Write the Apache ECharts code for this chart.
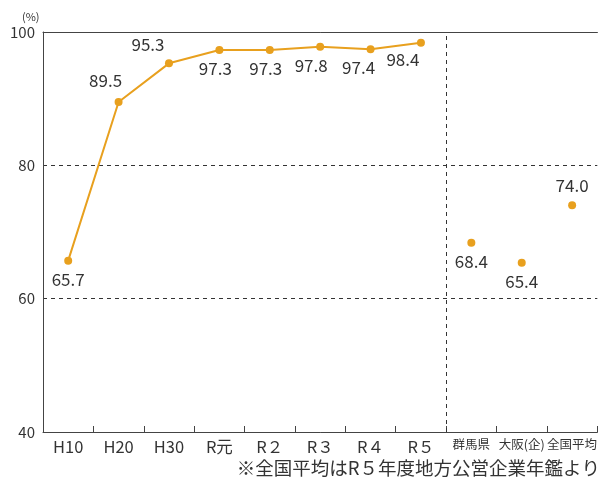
<!DOCTYPE html>
<html>
<head>
<meta charset="utf-8">
<script src="https://cdn.jsdelivr.net/npm/echarts@6/dist/echarts.min.js"></script>
<style>
  html, body { margin: 0; padding: 0; background: #fff; }
  #chart { width: 600px; height: 480px; }
</style>
</head>
<body>
<div id="chart"></div>
<script>
// Categories along the horizontal axis
var categories = ['H10', 'H20', 'H30', 'R元', 'R２', 'R３', 'R４', 'R５', '群馬県', '大阪(企)', '全国平均'];
// Yearly trend (%) — first eight categories
var trendValues = [65.7, 89.5, 95.3, 97.3, 97.3, 97.8, 97.4, 98.4, null, null, null];
// Comparison points (%) — last three categories
var compareValues = [null, null, null, null, null, null, null, null, 68.4, 65.4, 74.0];
// Vertical axis ticks
var yTicks = [40, 60, 80, 100];
// Boundary between the trend and the comparison group (in category units)
var dividerAt = 8;

var FONT = '"Noto Sans CJK JP", "Noto Sans", sans-serif';
var ORANGE = '#e8a01e';
var TEXT = '#333333';

// per-point label placement
var trendLabel = [
  { position: 'bottom', offset: [0, 1] },
  { position: 'top', offset: [-13, -4] },
  { position: 'top', offset: [-21, -1] },
  { position: 'bottom', offset: [-4, 1] },
  { position: 'bottom', offset: [-4, 1] },
  { position: 'bottom', offset: [-9, 1] },
  { position: 'bottom', offset: [-12, 1] },
  { position: 'bottom', offset: [-18, -1] }
];
var compareLabel = {
  8: { position: 'bottom', offset: [0, 1] },
  9: { position: 'bottom', offset: [0, 1] },
  10: { position: 'top', offset: [0, -2] }
};

var trendData = trendValues.map(function (v, i) {
  if (v == null) return null;
  return { value: v, label: trendLabel[i] };
});
var compareData = compareValues.map(function (v, i) {
  if (v == null) return null;
  return { value: v, label: compareLabel[i] };
});

function oneDecimal(p) {
  return Number(p.value).toFixed(1);
}

var chart = echarts.init(document.getElementById('chart'), null, { renderer: 'canvas' });
chart.setOption({
  animation: false,
  textStyle: { fontFamily: FONT },
  title: [
    { text: '(%)', left: 22, top: 11, padding: 0, textStyle: { fontSize: 11, fontWeight: 'normal', color: TEXT, fontFamily: FONT } },
    { text: '※全国平均はR５年度地方公営企業年鑑より', right: 0, top: 459, padding: 0, textStyle: { fontSize: 18.5, fontWeight: 'normal', color: TEXT, fontFamily: FONT } }
  ],
  grid: { left: 43, right: 0, top: 32, bottom: 48 },
  xAxis: [
    {
      type: 'category',
      data: categories,
      boundaryGap: true,
      axisLine: { lineStyle: { color: '#444', width: 1 } },
      axisTick: { show: true, inside: true, length: 6, interval: 0, lineStyle: { color: '#444' } },
      axisLabel: {
        interval: 0,
        color: TEXT,
        fontFamily: FONT,
        margin: 6,
        fontSize: 16.5,
        formatter: function (v, i) {
          return i >= dividerAt ? '{s|' + v + '}' : '{n|' + v + '}';
        },
        rich: {
          n: { fontSize: 16.5, fontFamily: FONT, color: TEXT },
          s: { fontSize: 12.5, fontFamily: FONT, color: TEXT }
        }
      },
      splitLine: { show: false }
    },
    {
      type: 'value',
      position: 'top',
      min: 0,
      max: categories.length,
      axisLine: { show: true, onZero: false, lineStyle: { color: '#444', width: 1 } },
      axisTick: { show: false },
      axisLabel: { show: false },
      splitLine: { show: false }
    }
  ],
  yAxis: {
    type: 'value',
    min: yTicks[0],
    max: yTicks[yTicks.length - 1],
    interval: 20,
    axisLine: { show: true, lineStyle: { color: '#444', width: 1 } },
    axisTick: { show: false },
    axisLabel: { color: TEXT, fontSize: 15, fontFamily: FONT, margin: 8 },
    splitLine: { show: true, lineStyle: { color: '#333', type: [4, 4], width: 1 } }
  },
  series: [
    {
      type: 'line',
      data: trendData,
      xAxisIndex: 0,
      symbol: 'circle',
      symbolSize: 8,
      lineStyle: { color: ORANGE, width: 2 },
      itemStyle: { color: ORANGE },
      label: { show: true, color: TEXT, fontSize: 17, fontFamily: FONT, formatter: oneDecimal },
      z: 5
    },
    {
      type: 'scatter',
      data: compareData,
      xAxisIndex: 0,
      symbol: 'circle',
      symbolSize: 8,
      itemStyle: { color: ORANGE, opacity: 1 },
      label: { show: true, color: TEXT, fontSize: 17, fontFamily: FONT, formatter: oneDecimal },
      z: 5
    },
    {
      // vertical divider between groups
      type: 'scatter',
      xAxisIndex: 1,
      data: [[dividerAt, yTicks[0]]],
      symbolSize: 0,
      silent: true,
      markLine: {
        silent: true,
        symbol: 'none',
        label: { show: false },
        lineStyle: { color: '#333', type: [4, 4], width: 1 },
        data: [{ xAxis: dividerAt }]
      }
    }
  ]
});
</script>
</body>
</html>
